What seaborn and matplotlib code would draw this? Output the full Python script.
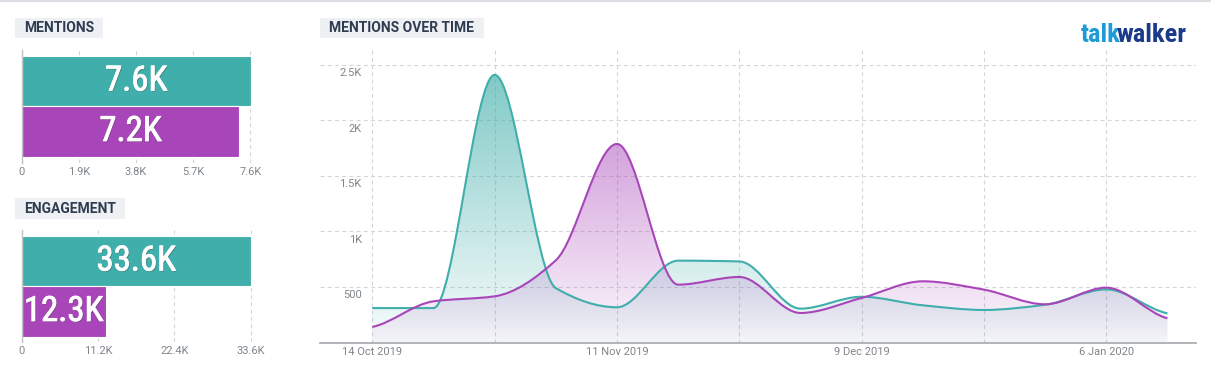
import numpy as np
import pandas as pd
import matplotlib
matplotlib.use('Agg')
import matplotlib.pyplot as plt
import matplotlib.dates as mdates
import matplotlib.patheffects as pe
import seaborn as sns
from matplotlib import font_manager
from matplotlib.path import Path
from matplotlib.patches import PathPatch, Rectangle
from matplotlib.lines import Line2D
from matplotlib.colors import to_rgb
from matplotlib.transforms import ScaledTranslation

# ---- data ----
series_names = ['Series A', 'Series B']
series_colors = ['#40aeaa', '#a846b9']

mention_totals = [7620, 7240]
engagement_totals = [33640, 12340]
mention_ticks = [0, 1900, 3800, 5700, 7600]
engagement_ticks = [0, 11200, 22400, 33600]

weeks = ['2019-10-14', '2019-10-21', '2019-10-28', '2019-11-04', '2019-11-11',
         '2019-11-18', '2019-11-25', '2019-12-02', '2019-12-09', '2019-12-16',
         '2019-12-23', '2019-12-30', '2020-01-06', '2020-01-13']
mentions_a = [310, 310, 2410, 490, 317, 737, 730, 305, 412, 335, 293, 340, 478, 263]
mentions_b = [140, 371, 416, 740, 1788, 521, 590, 266, 401, 551, 476, 344, 494, 218]

time_grid = ['2019-10-14', '2019-10-28', '2019-11-11', '2019-11-25',
             '2019-12-09', '2019-12-23', '2020-01-06']
time_labels = ['14 Oct 2019', '', '11 Nov 2019', '', '9 Dec 2019', '', '6 Jan 2020']
time_yticks = [500, 1000, 1500, 2000, 2500]

W, H = 1211, 377
GRID = '#d4d6d9'
TICK = '#7f858b'
TITLE = '#2e3c50'

sns.set_theme(style='white')
plt.rcParams['font.family'] = ['Roboto', 'DejaVu Sans']

available = {f.name for f in font_manager.fontManager.ttflist}
cond_font = next((f for f in ['Roboto Condensed', 'Liberation Sans Narrow', 'Open Sans Condensed']
                  if f in available), 'DejaVu Sans')


def fmt_k(v):
    if v == 0:
        return '0'
    if v < 1000:
        return f'{v:g}'
    return f'{v / 1000:g}K'


def add_axes_px(fig, left, top, right, bottom):
    return fig.add_axes([left / W, 1 - bottom / H, (right - left) / W, (bottom - top) / H])


def title_box(fig, x0, y0, x1, y1, text):
    fig.add_artist(Rectangle((x0 / W, 1 - y1 / H), (x1 - x0) / W, (y1 - y0) / H,
                             transform=fig.transFigure, color='#eef0f3', lw=0))
    fig.text((x0 + 9) / W, 1 - (y0 + y1) / 2 / H, text, va='center', ha='left',
             fontsize=10, fontweight='bold', color=TITLE)


def bar_panel(ax, values, ticks, xmax, ylim):
    sns.barplot(x=values, y=series_names, hue=series_names, palette=series_colors,
                orient='h', width=1.0, legend=False, ax=ax, saturation=1,
                edgecolor='white', linewidth=0.8, zorder=2)
    ax.set_xlim(0, xmax)
    ax.set_ylim(*ylim)
    ax.set_xticks(ticks)
    ax.set_xticklabels([fmt_k(t) for t in ticks])
    ax.set_yticks([])
    ax.set_xlabel('')
    ax.set_ylabel('')
    ax.tick_params(axis='x', length=0, pad=3, labelsize=8, labelcolor=TICK)
    for s in ['top', 'right', 'bottom']:
        ax.spines[s].set_visible(False)
    ax.spines['left'].set_color('#bfc2c6')
    ax.spines['left'].set_linewidth(1)
    ax.grid(axis='x', color=GRID, linestyle=(0, (3.6, 2.9)), linewidth=0.8, zorder=0)
    ax.set_axisbelow(True)
    ax.patch.set_alpha(0)
    for i, v in enumerate(values):
        ax.text(v / 2, i, f'{v / 1000:.1f}K', ha='center', va='center',
                family=cond_font, fontsize=25, color='white', zorder=5,
                path_effects=[pe.SimplePatchShadow(offset=(0.8, -0.8), alpha=0.4),
                              pe.Stroke(linewidth=0.6, foreground='white'),
                              pe.Normal()])


def slopes(x, y):
    h = np.diff(x)
    d = np.diff(y) / h
    m = np.zeros(len(y))
    for k in range(1, len(y) - 1):
        if d[k - 1] * d[k] > 0:
            w1 = 2 * h[k] + h[k - 1]
            w2 = h[k] + 2 * h[k - 1]
            m[k] = (w1 + w2) / (w1 / d[k - 1] + w2 / d[k])
    m[0] = 0.5 * d[0]
    m[-1] = 0.5 * d[-1]
    return m


def spline_path(x, y, closed=False):
    m = slopes(x, y)
    verts = [(x[0], y[0])]
    codes = [Path.MOVETO]
    for k in range(len(x) - 1):
        h = x[k + 1] - x[k]
        verts += [(x[k] + h / 3, y[k] + m[k] * h / 3),
                  (x[k + 1] - h / 3, y[k + 1] - m[k + 1] * h / 3),
                  (x[k + 1], y[k + 1])]
        codes += [Path.CURVE4] * 3
    if closed:
        verts += [(x[-1], 0), (x[0], 0), (x[0], y[0])]
        codes += [Path.LINETO, Path.LINETO, Path.CLOSEPOLY]
    return Path(verts, codes)


fig = plt.figure(figsize=(W / 100, H / 100), dpi=100)
fig.add_artist(Line2D([0, 1], [1 - 1 / H] * 2, transform=fig.transFigure,
                      color='#dcdfe3', lw=1.6))

# ---- left: totals ----
title_box(fig, 15, 18.3, 102.7, 38.3, 'MENTIONS')
ax_m = add_axes_px(fig, 21.7, 50, 21.7 + 7.7 * 30.08, 163)
bar_panel(ax_m, mention_totals, mention_ticks, 7700, (1.625, -0.613))

title_box(fig, 15, 198.3, 124.7, 219, 'ENGAGEMENT')
ax_e = add_axes_px(fig, 21.7, 230, 21.7 + 34 * 6.815, 341.7)
bar_panel(ax_e, engagement_totals, engagement_ticks, 34000, (1.599, -0.613))

# ---- right: mentions over time ----
title_box(fig, 320, 18.3, 483.7, 38.3, 'MENTIONS OVER TIME')
ax = add_axes_px(fig, 320, 50, 1196, 342.5)
x = mdates.date2num(pd.to_datetime(weeks))
x_left = x[0] - 5.99
x_right = x[0] + 94.27
y_top = 2634

for vals, color in zip([mentions_a, mentions_b], series_colors):
    y = np.array(vals, dtype=float)
    clip = PathPatch(spline_path(x, y, closed=True), transform=ax.transData,
                     facecolor='none', edgecolor='none')
    ax.add_patch(clip)
    grad = np.zeros((256, 2, 4))
    grad[..., :3] = to_rgb(color)
    grad[..., 3] = np.linspace(0.04, 0.72, 256)[:, None]
    im = ax.imshow(grad, extent=[x_left, x_right, 0, y_top], origin='lower',
                   aspect='auto', interpolation='bilinear', zorder=1)
    im.set_clip_path(clip)

for vals, color in zip([mentions_a, mentions_b], series_colors):
    y = np.array(vals, dtype=float)
    ax.add_patch(PathPatch(spline_path(x, y), transform=ax.transData,
                           facecolor='none', edgecolor=color, lw=1.5, zorder=3))

ax.set_xlim(x_left, x_right)
ax.set_ylim(0, y_top)
ax.set_xticks(mdates.date2num(pd.to_datetime(time_grid)))
ax.set_xticklabels(time_labels)
ax.set_yticks(time_yticks)
ax.set_yticklabels([fmt_k(v) for v in time_yticks])
ax.tick_params(axis='x', length=0, pad=3, labelsize=8, labelcolor=TICK)
ax.tick_params(axis='y', length=0, pad=-30, labelsize=8, labelcolor=TICK)
shift = ScaledTranslation(0, -7.5 / 100, fig.dpi_scale_trans)
for lab in ax.get_yticklabels():
    lab.set_transform(lab.get_transform() + shift)
ax.grid(True, color=GRID, linestyle=(0, (3.6, 2.9)), linewidth=0.8, zorder=0)
ax.set_axisbelow(True)
for s in ['top', 'right', 'left']:
    ax.spines[s].set_visible(False)
ax.spines['bottom'].set_color('#a3a8ad')
ax.spines['bottom'].set_linewidth(1.2)
ax.patch.set_alpha(0)

# ---- logo ----
logo_font = next((f for f in ['Liberation Sans Narrow', 'Roboto Condensed'] if f in available), 'DejaVu Sans')
walker = fig.text(1186.7 / W, 1 - 41.7 / H, 'walker', ha='right', va='baseline',
                  family=logo_font, fontweight='bold', fontsize=19, color='#1b3a8a')
ax.annotate('talk', xy=(0, 0), xycoords=walker, xytext=(2.5, 0), textcoords='offset points',
            ha='right', va='bottom', family=logo_font, fontweight='bold', fontsize=19,
            color='#1e9bd7', annotation_clip=False)

fig.savefig('out.png', dpi=100)
